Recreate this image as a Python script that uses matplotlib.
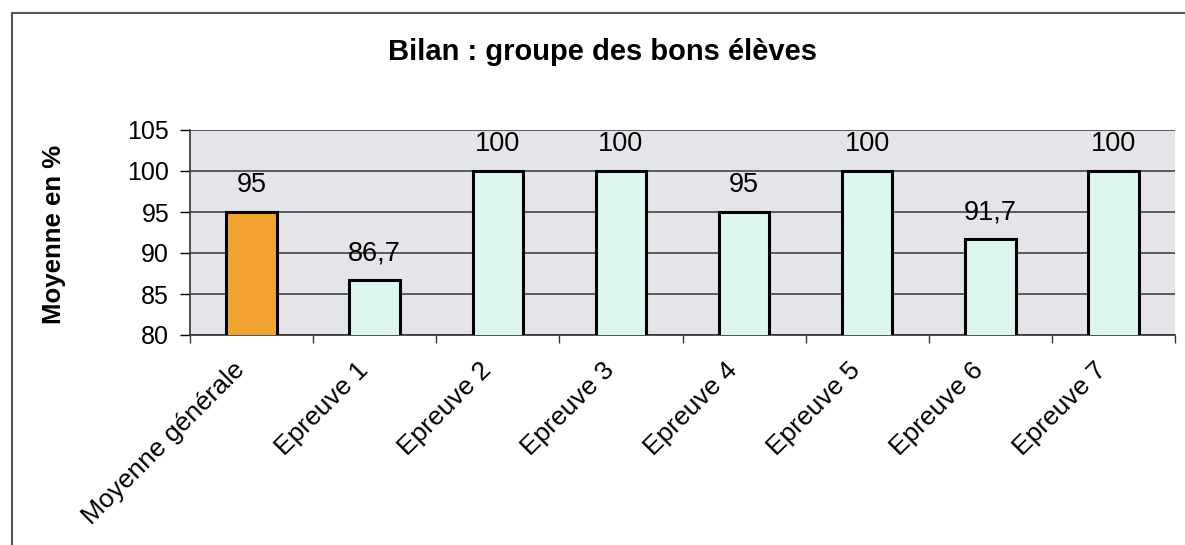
import matplotlib.pyplot as plt
import matplotlib.transforms as mtransforms
import numpy as np

categories = ['Moyenne générale', 'Epreuve 1', 'Epreuve 2', 'Epreuve 3',
              'Epreuve 4', 'Epreuve 5', 'Epreuve 6', 'Epreuve 7']
values = [95, 86.7, 100, 100, 95, 100, 91.7, 100]
value_labels = ['95', '86,7', '100', '100', '95', '100', '91,7', '100']

plt.rcParams['font.family'] = ['Liberation Sans', 'DejaVu Sans']

fig = plt.figure(figsize=(11.85, 5.45), dpi=100)
ax = fig.add_axes([190 / 1185, 210 / 545, 985 / 1185, 205 / 545])

colors = ['#f2a22e'] + ['#ddf6f0'] * (len(values) - 1)
x = np.arange(len(categories))
bars = ax.bar(x, values, width=0.41, bottom=0, color=colors,
              edgecolor='black', linewidth=2.2, zorder=3)

ax.set_ylim(80, 105)
ax.set_xlim(-0.5, len(categories) - 0.5)
ax.set_yticks([80, 85, 90, 95, 100, 105])
ax.set_facecolor('#e4e5e9')
ax.yaxis.grid(True, color='#444444', linewidth=1.2, zorder=1)

for xi, v, lab in zip(x, values, value_labels):
    ax.text(xi, v + 1.7, lab, ha='center', va='bottom', fontsize=19.5, zorder=4)

ax.set_xticks(x)
ax.set_xticklabels(categories, rotation=45, ha='right', rotation_mode='anchor',
                   fontsize=19)
ax.set_xticks(np.arange(-0.5, len(categories)), minor=True)
ax.tick_params(axis='x', which='major', length=0, pad=12)
ax.tick_params(axis='x', which='minor', length=6, width=1, color='#333333')
ax.tick_params(axis='y', length=7, width=1, labelsize=18, pad=8)

shift = mtransforms.ScaledTranslation(-19 / 100, -6 / 100, fig.dpi_scale_trans)
for lbl in ax.get_xticklabels():
    lbl.set_transform(lbl.get_transform() + shift)

for s in ['top', 'right']:
    ax.spines[s].set_visible(False)
ax.spines['left'].set_color('#333333')
ax.spines['bottom'].set_color('#333333')
ax.spines['left'].set_linewidth(1.2)
ax.spines['bottom'].set_linewidth(1.2)

ax.set_ylabel('Moyenne en %', fontsize=18.5, fontweight='bold')
ax.yaxis.set_label_coords(-124 / 985, (335 - 234) / 205)
fig.text(603 / 1185, 1 - 52 / 545, 'Bilan : groupe des bons élèves',
         ha='center', va='center', fontsize=21, fontweight='bold')

# outer chart border
fig.add_artist(plt.Line2D([12 / 1185, 12 / 1185], [0, 1 - 13 / 545],
                          transform=fig.transFigure, color='#555555', lw=1.5))
fig.add_artist(plt.Line2D([12 / 1185, 1], [1 - 13 / 545, 1 - 13 / 545],
                          transform=fig.transFigure, color='#555555', lw=1.5))

fig.savefig('out.png', dpi=100)
